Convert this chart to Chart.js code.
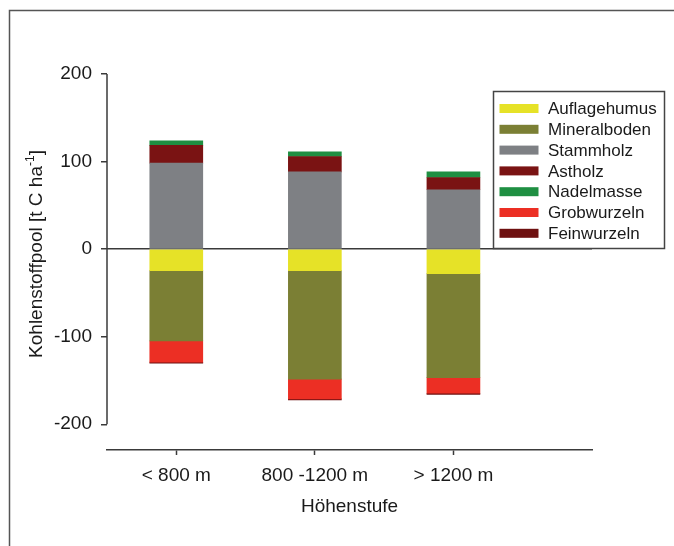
<!DOCTYPE html>
<html lang="de">
  <head>
    <meta charset="utf-8" />
    <title>Kohlenstoffpool</title>
    <script src="https://cdn.jsdelivr.net/npm/chart.js@4.4.1/dist/chart.umd.min.js"></script>
    <style>
      body { margin: 0; background: #fff; }
    </style>
  </head>
  <body>
    <canvas id="pool_chart" width="674" height="546"></canvas>
    <script>
      const categories = ["< 800 m", "800 -1200 m", "> 1200 m"];
      const yTicks = [200, 100, 0, -100, -200];

      // t C / ha, negative = below ground
      const auflagehumus = [-24.5, -24.5, -28];
      const mineralboden = [-80.3, -124, -118.7];
      const stammholz = [98.3, 88.3, 67.8];
      const astholz = [20.1, 17.5, 14];
      const nadelmasse = [5.4, 5.4, 6.5];
      const grobwurzeln = [-24.3, -22.5, -17.9];
      const feinwurzeln = [-1.2, -1.2, -1.2];

      const FONT = "'Liberation Sans', Arial, sans-serif";
      const INK = "#1a1a1a";
      const AXIS = "#3a3a3a";

      function pts(arr) {
        return arr.map((v, i) => ({ x: i, y: v }));
      }

      const data = {
        datasets: [
          { label: "Auflagehumus", backgroundColor: "#e6e227", data: pts(auflagehumus) },
          { label: "Mineralboden", backgroundColor: "#7b7f34", data: pts(mineralboden) },
          { label: "Stammholz", backgroundColor: "#7e8084", data: pts(stammholz) },
          { label: "Astholz", backgroundColor: "#7a1313", data: pts(astholz) },
          { label: "Nadelmasse", backgroundColor: "#1f8f42", data: pts(nadelmasse) },
          { label: "Grobwurzeln", backgroundColor: "#ec2f24", data: pts(grobwurzeln) },
          { label: "Feinwurzeln", backgroundColor: "#6e1010", data: pts(feinwurzeln) },
        ],
      };

      // axis titles, y axis line, legend box and the frame
      const extras = {
        id: "extras",
        afterDraw(chart) {
          const ctx = chart.ctx;
          const y = chart.scales.y;
          const area = chart.chartArea;
          ctx.save();

          // frame
          ctx.strokeStyle = "#555";
          ctx.lineWidth = 1.5;
          ctx.beginPath();
          ctx.moveTo(674, 10.5);
          ctx.lineTo(9.5, 10.5);
          ctx.lineTo(9.5, 546);
          ctx.stroke();

          // y axis line only between -200 and 200
          ctx.strokeStyle = AXIS;
          ctx.lineWidth = 1.5;
          ctx.beginPath();
          ctx.moveTo(area.left, y.getPixelForValue(200));
          ctx.lineTo(area.left, y.getPixelForValue(-200));
          ctx.stroke();

          // y title with superscript
          ctx.fillStyle = INK;
          ctx.translate(42, 254);
          ctx.rotate(-Math.PI / 2);
          ctx.textBaseline = "alphabetic";
          ctx.textAlign = "left";
          const big = "19px " + FONT, small = "12px " + FONT;
          const p1 = "Kohlenstoffpool [t C ha", p2 = "-1", p3 = "]";
          ctx.font = big;
          const w1 = ctx.measureText(p1).width, w3 = ctx.measureText(p3).width;
          ctx.font = small;
          const w2 = ctx.measureText(p2).width;
          let sx = -(w1 + w2 + w3) / 2;
          ctx.font = big;
          ctx.fillText(p1, sx, 0);
          ctx.font = small;
          ctx.fillText(p2, sx + w1, -8);
          ctx.font = big;
          ctx.fillText(p3, sx + w1 + w2, 0);
          ctx.setTransform(1, 0, 0, 1, 0, 0);

          // x title
          ctx.textAlign = "center";
          ctx.font = big;
          ctx.fillText("Höhenstufe", (area.left + area.right) / 2, 512);

          // legend
          const bx = 493.5, by = 91.5, bw = 171, bh = 157;
          ctx.fillStyle = "#fff";
          ctx.fillRect(bx, by, bw, bh);
          ctx.strokeStyle = "#444";
          ctx.lineWidth = 1.5;
          ctx.strokeRect(bx, by, bw, bh);
          ctx.font = "17px " + FONT;
          ctx.textAlign = "left";
          ctx.textBaseline = "middle";
          chart.data.datasets.forEach((ds, i) => {
            const cy = 108.5 + i * 20.8;
            ctx.fillStyle = ds.backgroundColor;
            ctx.fillRect(499.5, cy - 4.5, 39, 9);
            ctx.fillStyle = INK;
            ctx.fillText(ds.label, 548, cy + 1);
          });
          ctx.restore();
        },
      };

      const config = {
        type: "bar",
        data: data,
        options: {
          responsive: false,
          animation: false,
          layout: { padding: { top: 74, right: 82, bottom: 0, left: 0 } },
          plugins: { legend: { display: false }, tooltip: { enabled: false } },
          datasets: { bar: { barThickness: 53, borderWidth: 0 } },
          scales: {
            x: {
              type: "linear",
              stacked: true,
              offset: false,
              min: -0.5,
              max: 3,
              afterBuildTicks: (s) => { s.ticks = categories.map((c, i) => ({ value: i })); },
              afterFit: (s) => { s.height = 96; },
              ticks: {
                callback: (v) => categories[v],
                color: INK,
                font: { size: 19, family: FONT },
                padding: 9,
                maxRotation: 0,
                autoSkip: false,
              },
              grid: { offset: false, drawOnChartArea: false, tickLength: 5, tickColor: AXIS, tickWidth: 1.5 },
              border: { display: true, color: AXIS, width: 1.5 },
            },
            y: {
              stacked: true,
              min: -229.4,
              max: 200,
              afterBuildTicks: (s) => { s.ticks = yTicks.map((v) => ({ value: v })); },
              afterFit: (s) => { s.width = 107; },
              ticks: {
                color: INK,
                font: { size: 19, family: FONT },
                padding: 9,
              },
              grid: {
                drawOnChartArea: true,
                color: (c) => (c.tick && c.tick.value === 0 ? AXIS : "rgba(0,0,0,0)"),
                lineWidth: 1.5,
                tickColor: AXIS,
                tickLength: 6,
                tickWidth: 1.5,
              },
              border: { display: false },
            },
          },
        },
        plugins: [extras],
      };

      const poolChart = new Chart(document.getElementById("pool_chart"), config);
    </script>
  </body>
</html>
